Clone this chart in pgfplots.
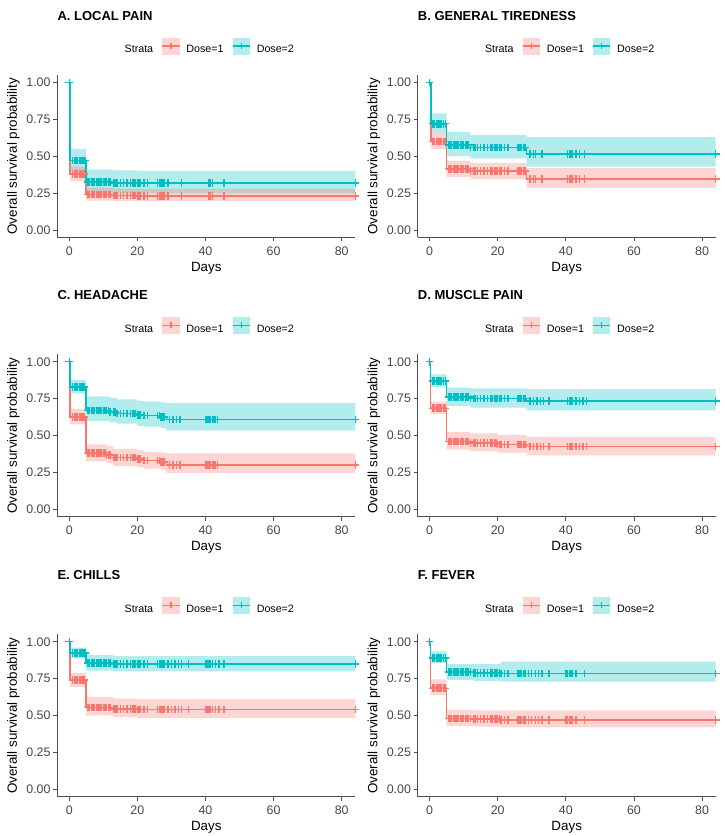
\documentclass[border=0pt]{standalone}
\usepackage{fontspec}
\setmainfont{Liberation Sans}
\usepackage{pgfplots}
\pgfplotsset{compat=1.18}
\usepackage{pgfplotstable}
\usepgfplotslibrary{fillbetween}
\definecolor{cR}{HTML}{F8766D}
\definecolor{cT}{HTML}{00BFC4}

% ---------- step data: t s lo hi ----------
\pgfplotstableread{
t s lo hi
0 1 1 1
0.3 0.38 0.33 0.43
5 0.24 0.20 0.285
13 0.235 0.197 0.28
20 0.23 0.195 0.278
84 0.23 0.195 0.278
}\ARed
\pgfplotstableread{
t s lo hi
0 1 1 1
0.3 0.47 0.40 0.55
5 0.325 0.255 0.41
13 0.32 0.25 0.405
20 0.32 0.248 0.40
84 0.32 0.248 0.40
}\ATeal
\pgfplotstableread{
t s lo hi
0 1 1 1
0.4 0.60 0.55 0.66
5 0.415 0.36 0.47
12 0.40 0.345 0.455
28.5 0.345 0.285 0.42
84 0.345 0.285 0.42
}\BRed
\pgfplotstableread{
t s lo hi
0 1 1 1
0.4 0.72 0.66 0.79
5 0.575 0.50 0.665
12 0.56 0.485 0.645
28.5 0.515 0.43 0.63
84 0.515 0.43 0.63
}\BTeal
\pgfplotstableread{
t s lo hi
0 1 1 1
0.3 0.625 0.575 0.68
5 0.38 0.325 0.44
11 0.37 0.315 0.43
13 0.35 0.295 0.41
20 0.34 0.285 0.40
22 0.33 0.275 0.39
27 0.32 0.265 0.385
28.5 0.30 0.245 0.38
84 0.30 0.245 0.38
}\CRed
\pgfplotstableread{
t s lo hi
0 1 1 1
0.3 0.83 0.785 0.875
5 0.67 0.60 0.765
12 0.66 0.59 0.755
14 0.65 0.58 0.745
20 0.64 0.565 0.735
22 0.635 0.56 0.73
27 0.625 0.55 0.725
28.5 0.61 0.535 0.72
84 0.61 0.535 0.72
}\CTeal
\pgfplotstableread{
t s lo hi
0 1 1 1
0.3 0.685 0.645 0.73
5 0.46 0.405 0.525
12 0.45 0.395 0.515
20 0.44 0.385 0.505
28.5 0.425 0.365 0.49
84 0.425 0.365 0.49
}\DRed
\pgfplotstableread{
t s lo hi
0 1 1 1
0.3 0.87 0.83 0.915
5 0.76 0.70 0.825
12 0.75 0.69 0.82
28.5 0.735 0.67 0.815
84 0.735 0.67 0.815
}\DTeal
\pgfplotstableread{
t s lo hi
0 1 1 1
0.3 0.74 0.695 0.79
5 0.555 0.50 0.625
13 0.545 0.49 0.615
20 0.54 0.485 0.61
84 0.54 0.485 0.61
}\ERed
\pgfplotstableread{
t s lo hi
0 1 1 1
0.3 0.925 0.89 0.96
5 0.855 0.805 0.91
13 0.85 0.80 0.905
84 0.85 0.80 0.905
}\ETeal
\pgfplotstableread{
t s lo hi
0 1 1 1
0.3 0.685 0.64 0.745
5 0.48 0.43 0.54
13 0.475 0.425 0.535
21 0.47 0.42 0.535
84 0.47 0.42 0.535
}\FRed
\pgfplotstableread{
t s lo hi
0 1 1 1
0.3 0.89 0.855 0.935
5 0.795 0.74 0.85
13 0.79 0.735 0.85
21 0.785 0.73 0.865
84 0.785 0.73 0.865
}\FTeal

\newcommand{\kmband}[3]{%
 \addplot[const plot, draw=none, forget plot, name path=#3h] table[x=t,y=hi]{#1};
 \addplot[const plot, draw=none, forget plot, name path=#3l] table[x=t,y=lo]{#1};
 \addplot[fill=#2, fill opacity=0.3, draw=none, forget plot] fill between[of=#3h and #3l];
}
\newcommand{\kmline}[2]{%
 \addplot[const plot, #2, line width=1.55pt, forget plot] table[x=t,y=s]{#1};
}
\newcommand{\kmkey}[1]{%
 \path[fill=#1, fill opacity=0.3, draw=none] (0pt,-4.7pt) rectangle (17.3pt,12.3pt);
 \path[draw=#1, line width=1.4pt] (0pt,3.8pt) -- (17.3pt,3.8pt);
 \path[draw=#1, line width=1.3pt] (8.65pt,0.8pt) -- (8.65pt,6.8pt);
}
\newcommand{\kmlegend}{%
 \addlegendimage{empty legend}\addlegendentry{Strata}
 \addlegendimage{legend image code/.code={\kmkey{cR}}}\addlegendentry{Dose=1}
 \addlegendimage{legend image code/.code={\kmkey{cT}}}\addlegendentry{Dose=2}
}

\pgfplotsset{km/.style={
 scale only axis, width=298pt, height=162.3pt,
 xmin=-3.5, xmax=84, ymin=-0.05, ymax=1.05,
 axis x line*=bottom, axis y line*=left,
 axis line style={black!70, line width=0.9pt, -},
 xtick={0,20,40,60,80}, xticklabels={0,20,40,60,80},
 ytick={0,0.25,0.5,0.75,1}, yticklabels={0.00,0.25,0.50,0.75,1.00},
 tick align=outside, major tick length=4pt,
 tick style={black!70, line width=0.9pt},
 ticklabel style={font=\fontsize{12.4}{14}\selectfont, text=black!72},
 yticklabel style={inner sep=0pt, xshift=-2.6pt},
 xticklabel style={inner sep=0pt, yshift=-5.3pt},
 xlabel={Days}, ylabel={Overall survival probability},
 label style={font=\fontsize{13.4}{15}\selectfont},
 xlabel style={at={(axis description cs:0.5,-0.2113)}, anchor=base},
 ylabel style={at={(axis description cs:-0.147,0.5)}, anchor=center},
 title style={at={(axis description cs:0,1.302)}, anchor=base west, inner sep=0pt, font=\bfseries\fontsize{13}{15}\selectfont},
 legend columns=3,
 legend style={draw=none, fill=none, at={(0.5,1.179)}, anchor=center,
   font=\fontsize{10.7}{12}\selectfont, nodes={inner sep=0pt},
   /tikz/every odd column/.append style={column sep=6pt},
   /tikz/every even column/.append style={column sep=8.5pt}},
 /pgf/number format/assume math mode=true,
 anchor=south west,
}}
\pgfplotsset{cens/.style={only marks, mark=+, mark size=3.8pt, mark options={line width=1.4pt}, forget plot}}

\begin{document}
\begin{tikzpicture}

% ===== A =====
\begin{axis}[km, at={(57.3pt,598.6pt)}, title={A. LOCAL PAIN}]
\kmlegend
\kmband{\ATeal}{cT}{t}
\kmband{\ARed}{cR}{r}
\kmline{\ARed}{cR}
\addplot[cens, cR] coordinates {(0,1)(1,.38)(1.5,.38)(2,.38)(2.5,.38)(3,.38)(3.5,.38)(4,.38)(4.5,.38)
(5.5,.24)(6,.24)(6.5,.24)(7,.24)(7.5,.24)(8,.24)(8.5,.24)(9,.24)(9.5,.24)(10,.24)(10.5,.24)(11,.24)(11.5,.24)(12,.24)
(13,.235)(13.5,.235)(14,.235)(15,.235)(16,.235)(17,.235)(18,.235)(18.5,.235)(19,.235)(19.5,.235)
(20,.23)(20.5,.23)(21,.23)(22,.23)(23,.23)(26,.23)(26.5,.23)(27,.23)(27.5,.23)(28,.23)
(29,.23)(33,.23)(41,.23)(41.5,.23)(42,.23)(45.5,.23)(84,.23)};
\kmline{\ATeal}{cT}
\addplot[cens, cT] coordinates {(0,1)(1,.47)(1.5,.47)(2,.47)(2.5,.47)(3,.47)(3.5,.47)(4,.47)(4.6,.47)
(5.5,.325)(6,.325)(6.5,.325)(7,.325)(7.5,.325)(8,.325)(8.5,.325)(9,.325)(9.5,.325)(10,.325)(10.5,.325)(11,.325)(11.5,.325)(12,.325)
(13,.32)(13.5,.32)(14,.32)(15,.32)(16,.32)(17,.32)(18,.32)(18.5,.32)(19,.32)(19.5,.32)
(20,.32)(20.5,.32)(21,.32)(22,.32)(23,.32)(26,.32)(26.5,.32)(27,.32)(27.5,.32)(28,.32)
(29,.32)(33,.32)(41,.32)(41.5,.32)(42,.32)(45.5,.32)(84,.32)};
\end{axis}

% ===== B =====
\begin{axis}[km, at={(417.7pt,598.6pt)}, title={B. GENERAL TIREDNESS}]
\kmlegend
\kmband{\BTeal}{cT}{t}
\kmband{\BRed}{cR}{r}
\kmline{\BRed}{cR}
\addplot[cens, cR] coordinates {(0,1)(1,.60)(1.5,.60)(2,.60)(2.5,.60)(3,.60)(3.5,.60)(4,.60)(4.5,.60)
(5.5,.415)(6,.415)(6.5,.415)(7,.415)(7.5,.415)(8,.415)(8.5,.415)(9,.415)(9.5,.415)(10,.415)(10.5,.415)(11,.415)(11.5,.415)
(12,.40)(13,.40)(13.5,.40)(14,.40)(15,.40)(16,.40)(17,.40)(18,.40)(18.5,.40)(19,.40)(19.5,.40)(20,.40)(20.5,.40)(21,.40)(22,.40)(23,.40)(26,.40)(26.5,.40)(27,.40)(27.5,.40)(28,.40)
(29.5,.345)(30.5,.345)(31,.345)(33,.345)(40.5,.345)(41,.345)(41.5,.345)(42,.345)(43,.345)(44,.345)(45.5,.345)(84,.345)};
\kmline{\BTeal}{cT}
\addplot[cens, cT] coordinates {(0,1)(1,.72)(1.5,.72)(2,.72)(2.5,.72)(3,.72)(3.5,.72)(4,.72)(4.6,.72)
(5.5,.575)(6,.575)(6.5,.575)(7,.575)(7.5,.575)(8,.575)(8.5,.575)(9,.575)(9.5,.575)(10,.575)(10.5,.575)(11,.575)(11.5,.575)
(12,.56)(13,.56)(13.5,.56)(14,.56)(15,.56)(16,.56)(17,.56)(18,.56)(18.5,.56)(19,.56)(19.5,.56)(20,.56)(20.5,.56)(21,.56)(22,.56)(23,.56)(26,.56)(26.5,.56)(27,.56)(27.5,.56)(28,.56)
(29.5,.515)(30.5,.515)(31,.515)(33,.515)(40.5,.515)(41,.515)(41.5,.515)(42,.515)(43,.515)(44,.515)(45.5,.515)(84,.515)};
\end{axis}

% ===== C =====
\begin{axis}[km, at={(57.3pt,319.3pt)}, title={C. HEADACHE}]
\kmlegend
\kmband{\CTeal}{cT}{t}
\kmband{\CRed}{cR}{r}
\kmline{\CRed}{cR}
\addplot[cens, cR] coordinates {(0,1)(1,.625)(1.5,.625)(2,.625)(2.5,.625)(3,.625)(3.5,.625)(4,.625)(4.5,.625)
(5.5,.38)(6,.38)(6.5,.38)(7,.38)(7.5,.38)(8,.38)(8.5,.38)(9,.38)(9.5,.38)(10,.38)(10.5,.38)
(11,.37)(11.5,.37)(12,.37)
(13,.35)(13.5,.35)(14,.35)(15,.35)(16,.35)(17,.35)(18,.35)(18.5,.35)(19,.35)(19.5,.35)
(20,.34)(20.5,.34)(21,.34)(22,.33)(23,.33)(26,.33)(26.5,.33)(27,.32)(27.5,.32)(28,.32)
(29.5,.30)(30.5,.30)(31.5,.30)(32.5,.30)(40,.30)(40.5,.30)(41,.30)(41.5,.30)(42,.30)(42.5,.30)(43,.30)(43.5,.30)(84,.30)};
\kmline{\CTeal}{cT}
\addplot[cens, cT] coordinates {(0,1)(1,.83)(1.5,.83)(2,.83)(2.5,.83)(3,.83)(3.5,.83)(4,.83)(4.5,.83)
(5.5,.67)(6,.67)(6.5,.67)(7,.67)(7.5,.67)(8,.67)(8.5,.67)(9,.67)(9.5,.67)(10,.67)(10.5,.67)(11,.67)(11.5,.67)
(12,.66)(13,.66)(13.5,.66)
(14,.65)(15,.65)(16,.65)(17,.65)(18,.65)(18.5,.65)(19,.65)(19.5,.65)
(20,.64)(20.5,.64)(21,.64)(22,.635)(23,.635)(26,.635)(26.5,.635)(27,.625)(27.5,.625)(28,.625)
(29.5,.61)(30.5,.61)(31.5,.61)(32.5,.61)(40,.61)(40.5,.61)(41,.61)(41.5,.61)(42,.61)(42.5,.61)(43,.61)(43.5,.61)(84,.61)};
\end{axis}

% ===== D =====
\begin{axis}[km, at={(417.7pt,319.3pt)}, title={D. MUSCLE PAIN}]
\kmlegend
\kmband{\DTeal}{cT}{t}
\kmband{\DRed}{cR}{r}
\kmline{\DRed}{cR}
\addplot[cens, cR] coordinates {(0,1)(1,.685)(1.5,.685)(2,.685)(2.5,.685)(3,.685)(3.5,.685)(4,.685)(4.5,.685)
(5.5,.46)(6,.46)(6.5,.46)(7,.46)(7.5,.46)(8,.46)(8.5,.46)(9,.46)(9.5,.46)(10,.46)(10.5,.46)(11,.46)(11.5,.46)
(12,.45)(13,.45)(13.5,.45)(14,.45)(15,.45)(16,.45)(17,.45)(18,.45)(18.5,.45)(19,.45)(19.5,.45)
(20,.44)(20.5,.44)(21,.44)(22,.44)(23,.44)(26,.44)(26.5,.44)(27,.44)(27.5,.44)(28,.44)
(29.5,.425)(30.5,.425)(31.5,.425)(32.5,.425)(33.5,.425)(35,.425)(40.5,.425)(41,.425)(41.5,.425)(42,.425)(43,.425)(44,.425)(45,.425)(46,.425)(84,.425)};
\kmline{\DTeal}{cT}
\addplot[cens, cT] coordinates {(0,1)(1,.87)(1.5,.87)(2,.87)(2.5,.87)(3,.87)(3.5,.87)(4,.87)(4.6,.87)
(5.5,.76)(6,.76)(6.5,.76)(7,.76)(7.5,.76)(8,.76)(8.5,.76)(9,.76)(9.5,.76)(10,.76)(10.5,.76)(11,.76)(11.5,.76)
(12,.75)(13,.75)(13.5,.75)(14,.75)(15,.75)(16,.75)(17,.75)(18,.75)(18.5,.75)(19,.75)(19.5,.75)(20,.75)(20.5,.75)(21,.75)(22,.75)(23,.75)(26,.75)(26.5,.75)(27,.75)(27.5,.75)(28,.75)
(29.5,.735)(30.5,.735)(31.5,.735)(32.5,.735)(33.5,.735)(35,.735)(40.5,.735)(41,.735)(41.5,.735)(42,.735)(43,.735)(44,.735)(45,.735)(46,.735)(84,.735)};
\end{axis}

% ===== E =====
\begin{axis}[km, at={(57.3pt,39.3pt)}, title={E. CHILLS}]
\kmlegend
\kmband{\ETeal}{cT}{t}
\kmband{\ERed}{cR}{r}
\kmline{\ERed}{cR}
\addplot[cens, cR] coordinates {(0,1)(1,.74)(1.5,.74)(2,.74)(2.5,.74)(3,.74)(3.5,.74)(4,.74)(4.5,.74)
(5.5,.555)(6,.555)(6.5,.555)(7,.555)(7.5,.555)(8,.555)(8.5,.555)(9,.555)(9.5,.555)(10,.555)(10.5,.555)(11,.555)(11.5,.555)(12,.555)
(13,.545)(13.5,.545)(14,.545)(15,.545)(16,.545)(17,.545)(18,.545)(18.5,.545)(19,.545)(19.5,.545)
(20,.54)(20.5,.54)(21,.54)(22,.54)(23,.54)(26,.54)(26.5,.54)(27,.54)(27.5,.54)(28,.54)
(29,.54)(30,.54)(31,.54)(32,.54)(33,.54)(35,.54)(40,.54)(40.5,.54)(41,.54)(41.5,.54)(42,.54)(43,.54)(44,.54)(45.5,.54)(84,.54)};
\kmline{\ETeal}{cT}
\addplot[cens, cT] coordinates {(0,1)(1,.925)(1.5,.925)(2,.925)(2.5,.925)(3,.925)(3.5,.925)(4,.925)(4.6,.925)
(5.5,.855)(6,.855)(6.5,.855)(7,.855)(7.5,.855)(8,.855)(8.5,.855)(9,.855)(9.5,.855)(10,.855)(10.5,.855)(11,.855)(11.5,.855)(12,.855)
(13,.85)(13.5,.85)(14,.85)(15,.85)(16,.85)(17,.85)(18,.85)(18.5,.85)(19,.85)(19.5,.85)
(20,.85)(20.5,.85)(21,.85)(22,.85)(23,.85)(26,.85)(26.5,.85)(27,.85)(27.5,.85)(28,.85)
(29,.85)(30,.85)(31,.85)(32,.85)(33,.85)(35,.85)(40,.85)(40.5,.85)(41,.85)(41.5,.85)(42,.85)(43,.85)(44,.85)(45.5,.85)(84,.85)};
\end{axis}

% ===== F =====
\begin{axis}[km, at={(417.7pt,39.3pt)}, title={F. FEVER}]
\kmlegend
\kmband{\FTeal}{cT}{t}
\kmband{\FRed}{cR}{r}
\kmline{\FRed}{cR}
\addplot[cens, cR] coordinates {(0,1)(1,.685)(1.5,.685)(2,.685)(2.5,.685)(3,.685)(3.5,.685)(4,.685)(4.5,.685)
(5.5,.48)(6,.48)(6.5,.48)(7,.48)(7.5,.48)(8,.48)(8.5,.48)(9,.48)(9.5,.48)(10,.48)(10.5,.48)(11,.48)(11.5,.48)(12,.48)
(13,.475)(13.5,.475)(14,.475)(15,.475)(16,.475)(17,.475)(18,.475)(18.5,.475)(19,.475)(19.5,.475)(20,.475)(20.5,.475)
(21,.47)(22,.47)(23,.47)(26,.47)(26.5,.47)(27,.47)(27.5,.47)(28,.47)
(29,.47)(30,.47)(31,.47)(32,.47)(33,.47)(35,.47)(40,.47)(40.5,.47)(41,.47)(41.5,.47)(42,.47)(43,.47)(45.5,.47)(84,.47)};
\kmline{\FTeal}{cT}
\addplot[cens, cT] coordinates {(0,1)(1,.89)(1.5,.89)(2,.89)(2.5,.89)(3,.89)(3.5,.89)(4,.89)(4.6,.89)
(5.5,.795)(6,.795)(6.5,.795)(7,.795)(7.5,.795)(8,.795)(8.5,.795)(9,.795)(9.5,.795)(10,.795)(10.5,.795)(11,.795)(11.5,.795)(12,.795)
(13,.79)(13.5,.79)(14,.79)(15,.79)(16,.79)(17,.79)(18,.79)(18.5,.79)(19,.79)(19.5,.79)(20,.79)(20.5,.79)
(21,.785)(22,.785)(23,.785)(26,.785)(26.5,.785)(27,.785)(27.5,.785)(28,.785)
(29,.785)(30,.785)(31,.785)(32,.785)(33,.785)(35,.785)(40,.785)(40.5,.785)(41,.785)(41.5,.785)(42,.785)(43,.785)(45.5,.785)(84,.785)};
\end{axis}

\pgfresetboundingbox
\useasboundingbox (0,0) rectangle (724pt,836pt);
\end{tikzpicture}
\end{document}
